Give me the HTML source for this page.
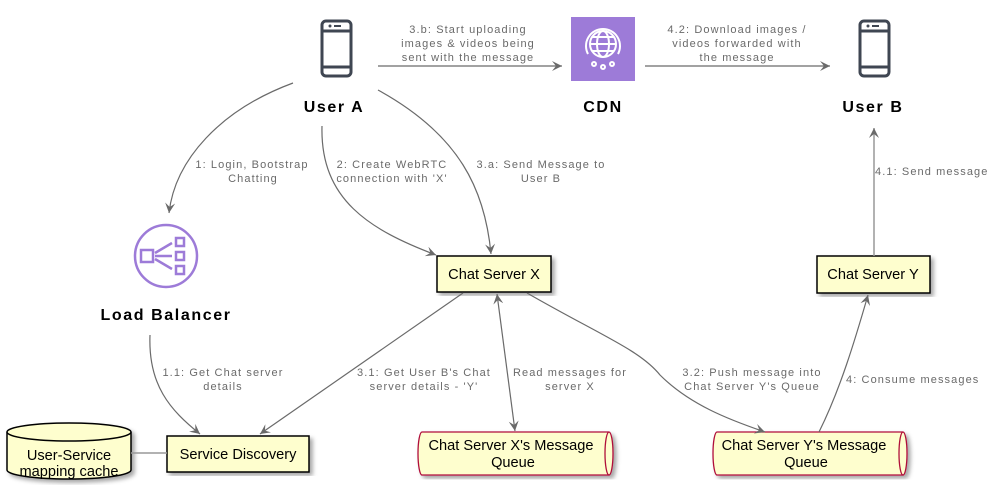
<!DOCTYPE html>
<html><head><style>
body{margin:0;background:#fff;}
svg{display:block;}
.l{font-family:"Liberation Sans",sans-serif;font-size:11px;fill:#6a6a6a;letter-spacing:1.1px;text-anchor:middle;}
.n{font-family:"Liberation Sans",sans-serif;font-size:14.6px;fill:#000;text-anchor:middle;}
.b{font-family:"Liberation Sans",sans-serif;font-size:16px;font-weight:bold;fill:#000;text-anchor:middle;letter-spacing:1.6px;}
.e{fill:none;stroke:#6a6a6a;stroke-width:1.2;}
</style></head><body>
<svg width="1004" height="491" viewBox="0 0 1004 491">
<defs>
<marker id="a" markerWidth="12" markerHeight="10" refX="10" refY="5" orient="auto" markerUnits="userSpaceOnUse">
<path d="M0,0 L10,5 L0,10 L4,5 Z" fill="#6a6a6a"/></marker>
<marker id="s" markerWidth="12" markerHeight="10" refX="0" refY="5" orient="auto" markerUnits="userSpaceOnUse">
<path d="M10,0 L0,5 L10,10 L6,5 Z" fill="#6a6a6a"/></marker>
<filter id="sh"><feDropShadow dx="3" dy="3" stdDeviation="2" flood-opacity="0.35"/></filter>
</defs>

<g fill="none" stroke="#3f4652" stroke-width="3">
<rect x="322" y="21" width="29" height="55" rx="4"/>
<line x1="322" y1="31" x2="351" y2="31"/><line x1="322" y1="67" x2="351" y2="67"/>
</g>
<circle cx="330" cy="26" r="1.5" fill="#3f4652"/><line x1="334" y1="26" x2="341" y2="26" stroke="#3f4652" stroke-width="2"/>
<text x="334" y="112" class="b">User A</text>
<g fill="none" stroke="#3f4652" stroke-width="3">
<rect x="860" y="21" width="29" height="55" rx="4"/>
<line x1="860" y1="31" x2="889" y2="31"/><line x1="860" y1="67" x2="889" y2="67"/>
</g>
<circle cx="868" cy="26" r="1.5" fill="#3f4652"/><line x1="872" y1="26" x2="879" y2="26" stroke="#3f4652" stroke-width="2"/>
<text x="873" y="112" class="b">User B</text>
<rect x="571" y="17" width="64" height="64" fill="#9d7bd8"/>
<g fill="none" stroke="#fff" stroke-width="2">
<circle cx="603" cy="44" r="13"/><ellipse cx="603" cy="44" rx="6" ry="13"/>
<line x1="590" y1="44" x2="616" y2="44"/><line x1="592" y1="37" x2="614" y2="37"/><line x1="592" y1="51" x2="614" y2="51"/>
<path d="M588,54 A17,17 0 1 1 618,54"/>
<circle cx="594" cy="64" r="2"/><circle cx="603" cy="67" r="2"/><circle cx="612" cy="64" r="2"/>
</g>
<text x="603" y="112" class="b">CDN</text>
<g fill="none" stroke="#9d7bd8" stroke-width="2.5">
<circle cx="166" cy="256" r="31"/>
<rect x="141" y="250" width="12" height="12"/>
<rect x="176" y="238" width="8" height="8"/><rect x="176" y="252" width="8" height="8"/><rect x="176" y="266" width="8" height="8"/>
<path d="M155,253 L172,243 M155,256 L172,256 M155,259 L172,269"/>
</g>
<text x="166" y="320" class="b">Load Balancer</text>

<rect x="437" y="256" width="114" height="36" fill="#fefece" stroke="#000" stroke-width="1.5" filter="url(#sh)"/>
<text x="494" y="279" class="n">Chat Server X</text>
<rect x="817" y="256" width="113" height="37" fill="#fefece" stroke="#000" stroke-width="1.5" filter="url(#sh)"/>
<text x="873" y="279" class="n">Chat Server Y</text>
<rect x="167" y="436" width="142" height="36" fill="#fefece" stroke="#000" stroke-width="1.5" filter="url(#sh)"/>
<text x="238" y="459" class="n">Service Discovery</text>
<g filter="url(#sh)">
<path d="M7,432 L7,470 A62,9 0 0 0 131,470 L131,432" fill="#fefece" stroke="#000" stroke-width="1.5"/>
<ellipse cx="69" cy="432" rx="62" ry="9" fill="#fefece" stroke="#000" stroke-width="1.5"/>
</g>
<text x="69" y="460" class="n">User-Service</text>
<text x="69" y="476" class="n">mapping cache</text>
<line x1="131" y1="453" x2="167" y2="453" stroke="#999" stroke-width="1.5"/>
<g filter="url(#sh)" fill="#fefece" stroke="#b0103a" stroke-width="1.3">
<path d="M422,432 L609,432 A4,21.5 0 0 1 609,475 L422,475 A4,21.5 0 0 1 422,432 Z"/>
<path d="M717,432 L903,432 A4,21.5 0 0 1 903,475 L717,475 A4,21.5 0 0 1 717,432 Z"/>
</g>
<path d="M609,432 A4,21.5 0 0 0 609,475 M903,432 A4,21.5 0 0 0 903,475" fill="none" stroke="#b0103a" stroke-width="1.3"/>
<text x="511" y="450" class="n">Chat Server X's Message</text>
<text x="513" y="467" class="n">Queue</text>
<text x="804" y="450" class="n">Chat Server Y's Message</text>
<text x="806" y="467" class="n">Queue</text>

<line x1="378" y1="66" x2="562" y2="66" class="e" marker-end="url(#a)"/>
<line x1="645" y1="66" x2="830" y2="66" class="e" marker-end="url(#a)"/>
<path d="M293,83 C220,110 175,160 169,213" class="e" marker-end="url(#a)"/>
<path d="M322,126 C320,200 370,230 436,255" class="e" marker-end="url(#a)"/>
<path d="M378,90 C460,135 485,190 491,254" class="e" marker-end="url(#a)"/>
<line x1="874" y1="256" x2="874" y2="128" stroke="#999" stroke-width="1.5" marker-end="url(#a)"/>
<path d="M150,335 C148,385 170,410 200,434" class="e" marker-end="url(#a)"/>
<line x1="463" y1="293" x2="260" y2="434" class="e" marker-end="url(#a)"/>
<line x1="497" y1="294" x2="515" y2="431" class="e" marker-start="url(#s)" marker-end="url(#a)"/>
<path d="M527,293 C600,335 640,350 660,375 C690,405 730,420 765,432" class="e" marker-end="url(#a)"/>
<path d="M819,432 C840,390 855,340 868,295" class="e" marker-end="url(#a)"/>

<text class="l"><tspan x="468" y="33">3.b: Start uploading</tspan><tspan x="468" y="47">images &amp; videos being</tspan><tspan x="468" y="61">sent with the message</tspan></text>
<text class="l"><tspan x="737" y="33">4.2: Download images /</tspan><tspan x="737" y="47">videos forwarded with</tspan><tspan x="737" y="61">the message</tspan></text>
<text class="l"><tspan x="252" y="168">1: Login, Bootstrap</tspan><tspan x="253" y="182">Chatting</tspan></text>
<text class="l"><tspan x="392" y="168">2: Create WebRTC</tspan><tspan x="392" y="182">connection with 'X'</tspan></text>
<text class="l"><tspan x="541" y="168">3.a: Send Message to</tspan><tspan x="541" y="182">User B</tspan></text>
<text class="l" style="text-anchor:start"><tspan x="875" y="175">4.1: Send message</tspan></text>
<text class="l"><tspan x="223" y="376">1.1: Get Chat server</tspan><tspan x="223" y="390">details</tspan></text>
<text class="l"><tspan x="424" y="376">3.1: Get User B's Chat</tspan><tspan x="424" y="390">server details - 'Y'</tspan></text>
<text class="l"><tspan x="570" y="376">Read messages for</tspan><tspan x="570" y="390">server X</tspan></text>
<text class="l"><tspan x="752" y="376">3.2: Push message into</tspan><tspan x="752" y="390">Chat Server Y's Queue</tspan></text>
<text class="l" style="text-anchor:start"><tspan x="846" y="383">4: Consume messages</tspan></text>
</svg>
</body></html>
